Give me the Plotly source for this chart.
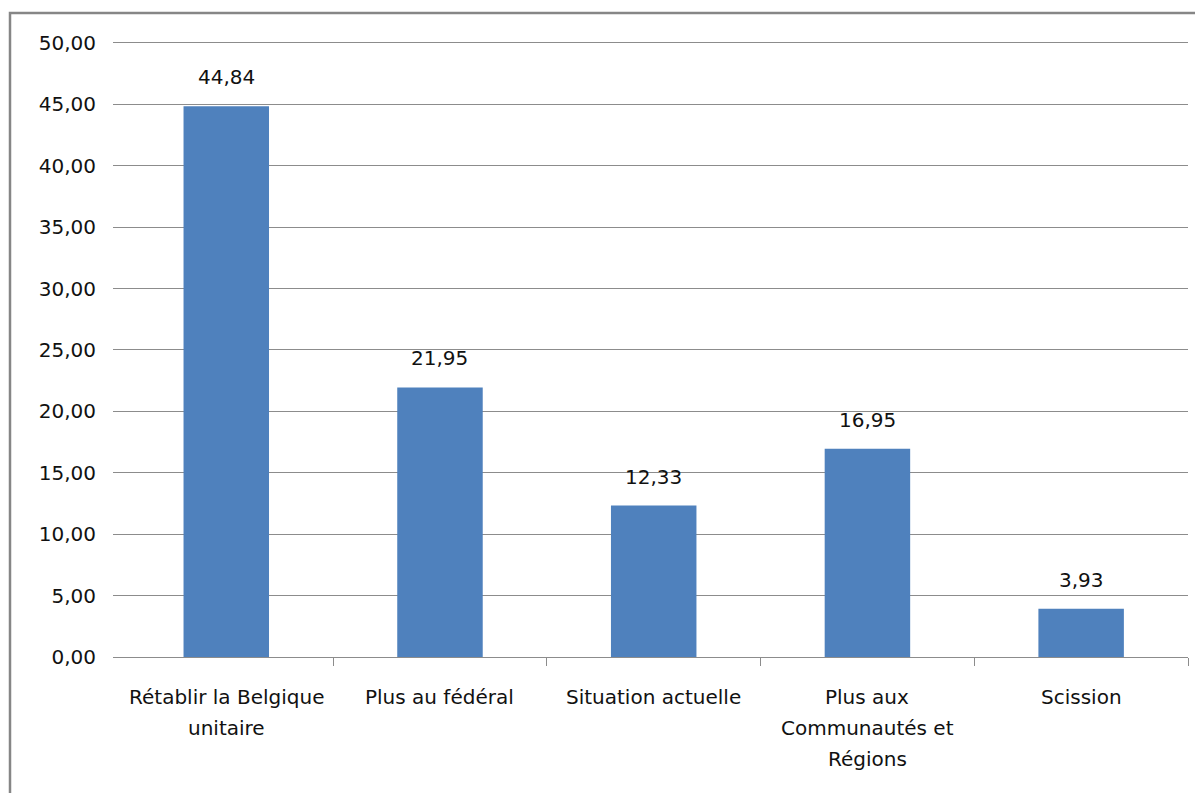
import plotly.graph_objects as go

categories = ["Rétablir la Belgique<br>unitaire", "Plus au fédéral", "Situation actuelle",
              "Plus aux<br>Communautés et<br>Régions", "Scission"]
values = [44.84, 21.95, 12.33, 16.95, 3.93]
y_ticks = [0, 5, 10, 15, 20, 25, 30, 35, 40, 45, 50]

FONT = "DejaVu Sans"
FS = 20
W, H = 1203, 793
L, R, T, B = 105, 23, 33, 144
pw, ph = W - L - R, H - T - B

xpos = list(range(len(categories)))
boundaries = [i + 0.5 for i in xpos]

fig = go.Figure(go.Bar(
    x=xpos, y=values,
    marker=dict(color="#4F81BD", line=dict(width=0)),
    width=0.4,
    cliponaxis=False,
))

for i, v in zip(xpos, values):
    fig.add_annotation(x=i, y=v, text=f"{v:.2f}".replace(".", ","),
                       showarrow=False, yanchor="bottom", yshift=15,
                       font=dict(family=FONT, size=FS, color="#111111"))

for i, c in zip(xpos, categories):
    for k, line in enumerate(c.split("<br>")):
        fig.add_annotation(x=i, y=0, text=line, showarrow=False,
                           yanchor="middle", yshift=-(40 + 31 * k),
                           font=dict(family=FONT, size=FS, color="#111111"))

fig.update_layout(
    width=W, height=H,
    margin=dict(l=L, r=R, t=T, b=B),
    paper_bgcolor="white", plot_bgcolor="white",
    showlegend=False,
    font=dict(family=FONT, size=FS, color="#111111"),
    xaxis=dict(
        range=[-0.53, 4.5],
        tickvals=xpos, ticktext=[""] * len(xpos),
        showgrid=False, zeroline=False,
        showline=True, linecolor="#8C8C8C", linewidth=1,
        ticks="",
        minor=dict(tickmode="array", tickvals=boundaries, ticks="outside",
                   ticklen=8, tickcolor="#8C8C8C", tickwidth=1, showgrid=False),
    ),
    yaxis=dict(
        range=[0, 50.15], tickvals=y_ticks,
        ticktext=[f"{t:.2f}".replace(".", ",") for t in y_ticks],
        showgrid=True, gridcolor="#8C8C8C", gridwidth=1,
        showline=False, zeroline=False,
        ticks="", ticklabelstandoff=16,
        tickfont=dict(family=FONT, size=FS, color="#111111"),
    ),
    shapes=[
        dict(type="rect", xref="paper", yref="paper",
             x0=(2 - L) / pw, x1=1 + (R + 20) / pw,
             y0=-(B + 20) / ph, y1=1 + (T - 5) / ph,
             line=dict(color="#868686", width=2.5), fillcolor="rgba(0,0,0,0)", layer="below"),
    ],
)

fig.write_html("out.html")
